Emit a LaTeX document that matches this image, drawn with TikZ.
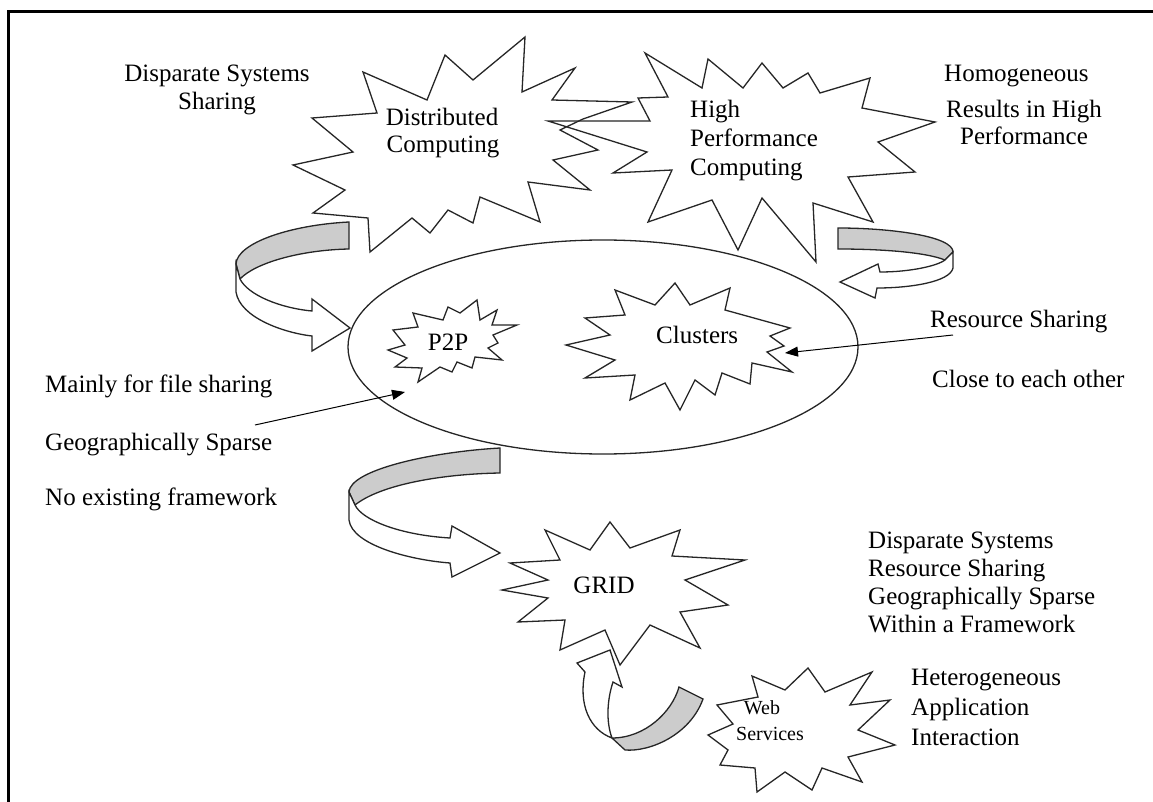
\documentclass[tikz,border=0pt]{standalone}
\usepackage{fontspec}
\setmainfont{Liberation Serif}
\usetikzlibrary{arrows.meta}
\begin{document}
\begin{tikzpicture}[x=1pt,y=-1pt,
  every node/.style={inner sep=0pt},
  lbl/.style={font=\fontsize{25}{28}\selectfont, anchor=base west},
  clbl/.style={font=\fontsize{25}{28}\selectfont, anchor=base},
  slbl/.style={font=\fontsize{20}{24}\selectfont, anchor=base},
  outline/.style={draw=black!85, line width=1.3pt, line join=miter},
  burst/.style={outline, fill=white},
  band/.style={outline, fill=black!20},
  ribbon/.style={outline, fill=white},
  pointer/.style={draw=black, line width=1pt, -{Triangle[length=13pt,width=10pt]}},
]
\useasboundingbox (0,0) rectangle (1153,802);
\fill[white] (0,0) rectangle (1153,802);

% frame (top and left edges)
\draw[line width=3.5pt, line join=miter] (1153,11.5) -- (8.5,11.5) -- (8.5,802);

% ---- the two upper explosions ----
\fill[white] (525,37) -- (522,92) -- (575,68) -- (552,100) -- (632,102) -- (583,119)
  -- (560,130) -- (598,150) -- (553,160) -- (590,190) -- (528,182) -- (540,222)
  -- (480,197) -- (473,223) -- (448,210) -- (430,233) -- (412,218) -- (370,252)
  -- (368,218) -- (313,213) -- (345,190) -- (293,165) -- (353,152) -- (312,118)
  -- (377,113) -- (363,72) -- (427,100) -- (445,55) -- (473,80) -- cycle;
\fill[white] (645,53) -- (702,88) -- (708,59) -- (743,88) -- (762,63) -- (783,88)
  -- (808,73) -- (820,93) -- (870,78) -- (862,108) -- (935,122) -- (878,142)
  -- (915,172) -- (848,177) -- (873,222) -- (813,203) -- (816,262) -- (762,198)
  -- (738,250) -- (712,200) -- (648,222) -- (672,170) -- (613,173) -- (647,152)
  -- (548,121) -- (650,121) -- (638,98) -- (668,97) -- cycle;
\draw[outline] (525,37) -- (522,92) -- (575,68) -- (552,100) -- (632,102) -- (583,119)
  -- (560,130) -- (598,150) -- (553,160) -- (590,190) -- (528,182) -- (540,222)
  -- (480,197) -- (473,223) -- (448,210) -- (430,233) -- (412,218) -- (370,252)
  -- (368,218) -- (313,213) -- (345,190) -- (293,165) -- (353,152) -- (312,118)
  -- (377,113) -- (363,72) -- (427,100) -- (445,55) -- (473,80) -- cycle;
\draw[outline] (645,53) -- (702,88) -- (708,59) -- (743,88) -- (762,63) -- (783,88)
  -- (808,73) -- (820,93) -- (870,78) -- (862,108) -- (935,122) -- (878,142)
  -- (915,172) -- (848,177) -- (873,222) -- (813,203) -- (816,262) -- (762,198)
  -- (738,250) -- (712,200) -- (648,222) -- (672,170) -- (613,173) -- (647,152)
  -- (548,121) -- (650,121) -- (638,98) -- (668,97) -- cycle;

\node[clbl] (dc1) at (442,126) {Distributed};
\node[clbl] (dc2) at (443,153) {Computing};
\node[lbl] (hpc1) at (690,118) {High};
\node[lbl] (hpc2) at (690,147) {Performance};
\node[lbl] (hpc3) at (690,176) {Computing};

% ---- central ellipse ----
\draw[outline] (603,347) ellipse [x radius=255, y radius=107];

% ---- curved ribbon arrows ----
% left: from Distributed Computing into the ellipse
\draw[band] (349,222) .. controls (290,225) and (237,243) .. (236,264)
  -- (240,279) .. controls (255,263) and (300,250) .. (349,249) -- cycle;
\draw[ribbon] (236,264) -- (236,292) .. controls (240,318) and (285,333) .. (312,336)
  -- (312,351) -- (350,328) -- (312,299) -- (312,311)
  .. controls (280,308) and (248,295) .. (240,279) -- cycle;
% right: from High Performance Computing into the ellipse
\draw[band] (838,228) .. controls (890,228) and (953,236) .. (953,252)
  -- (945,260) .. controls (925,252) and (880,249) .. (838,249) -- cycle;
\draw[ribbon] (953,252) -- (953,268) .. controls (950,282) and (910,288) .. (877,288)
  -- (875,298) -- (840,282) -- (878,264) -- (880,272)
  .. controls (910,272) and (937,266) .. (945,260) -- cycle;
% lower: from the ellipse down to GRID
\draw[band] (500,448) .. controls (430,452) and (350,470) .. (349,492)
  -- (355,505) .. controls (380,485) and (440,474) .. (500,473) -- cycle;
\draw[ribbon] (349,492) -- (349,520) .. controls (352,545) and (410,560) .. (450,563)
  -- (452,577) -- (500,553) -- (452,526) -- (450,538)
  .. controls (400,535) and (362,520) .. (355,505) -- cycle;
% bottom: from Web Services up to GRID
\draw[ribbon] (612,738) .. controls (590,730) and (578,705) .. (585,672)
  -- (577,663) -- (610,650) -- (622,687) -- (613,682)
  .. controls (607,700) and (606,722) .. (612,738) -- cycle;
\draw[band] (679,687) -- (703,699) .. controls (690,735) and (650,752) .. (625,750)
  -- (612,738) .. controls (645,738) and (672,712) .. (679,687) -- cycle;

% ---- P2P and Clusters ----
\draw[burst] (413,313) -- (443,320) -- (448,307) -- (460,313) -- (477,300) -- (480,320)
  -- (497,310) -- (492,325) -- (517,325) -- (493,335) -- (498,343) -- (488,348)
  -- (502,360) -- (475,357) -- (472,368) -- (457,362) -- (452,372) -- (440,367)
  -- (418,382) -- (422,368) -- (395,367) -- (407,358) -- (388,350) -- (405,345)
  -- (393,330) -- (418,327) -- cycle;
\node[clbl] (p2p) at (448,350) {P2P};

\draw[burst] (585,318) -- (625,315) -- (615,290) -- (655,305) -- (675,283) -- (690,305)
  -- (730,288) -- (725,310) -- (790,328) -- (770,336) -- (784,346) -- (767,352)
  -- (792,372) -- (752,363) -- (750,384) -- (722,373) -- (715,395) -- (695,380)
  -- (680,410) -- (665,383) -- (630,400) -- (635,375) -- (585,378) -- (615,360)
  -- (566,345) -- (610,335) -- cycle;
\node[lbl] (clusters) at (656,343) {Clusters};

% ---- GRID ----
\draw[burst] (510,563) -- (560,560) -- (545,530) -- (590,550) -- (610,522) -- (630,548)
  -- (680,530) -- (672,556) -- (745,560) -- (685,580) -- (728,605) -- (680,612)
  -- (700,648) -- (650,625) -- (620,665) -- (605,630) -- (560,650) -- (565,620)
  -- (518,622) -- (548,598) -- (502,590) -- (548,580) -- cycle;
\node[clbl] (grid) at (604,593) {GRID};

% ---- Web Services ----
\draw[burst] (752,676) -- (758,697) -- (717,705) -- (733,724) -- (708,735) -- (728,750)
  -- (720,765) -- (755,768) -- (757,792) -- (785,772) -- (812,790) -- (822,768)
  -- (862,782) -- (848,757) -- (895,745) -- (858,730) -- (890,700) -- (850,705)
  -- (872,672) -- (825,692) -- (808,668) -- (785,690) -- cycle;
\node[slbl] (web1) at (762,714) {Web};
\node[slbl] (web2) at (770,740) {Services};

% ---- annotations ----
\node[clbl] (a1) at (217,82) {Disparate Systems};
\node[clbl] (a2) at (217,110) {Sharing};
\node[lbl] (b1) at (944,82) {Homogeneous};
\node[clbl] (b2) at (1024,118) {Results in High};
\node[clbl] (b3) at (1024,145) {Performance};

\node[lbl] (c1) at (930,327) {Resource Sharing};
\node[lbl] (c2) at (932,387) {Close to each other};

\node[lbl] (d1) at (45,392) {Mainly for file sharing};
\node[lbl] (d2) at (45,450) {Geographically Sparse};
\node[lbl] (d3) at (45,505) {No existing framework};

\node[lbl] (e1) at (868,548) {Disparate Systems};
\node[lbl] (e2) at (868,576) {Resource Sharing};
\node[lbl] (e3) at (868,604) {Geographically Sparse};
\node[lbl] (e4) at (868,632) {Within a Framework};

\node[lbl] (f1) at (911,685) {Heterogeneous};
\node[lbl] (f2) at (911,715) {Application};
\node[lbl] (f3) at (911,745) {Interaction};

% ---- pointers ----
\coordinate (rsFrom) at (953,335);
\coordinate (clusterTip) at (785,353);
\coordinate (p2pFrom) at (255,425);
\coordinate (p2pTip) at (405,392);
\draw[pointer] (rsFrom) -- (clusterTip);
\draw[pointer] (p2pFrom) -- (p2pTip);
\end{tikzpicture}
\end{document}
